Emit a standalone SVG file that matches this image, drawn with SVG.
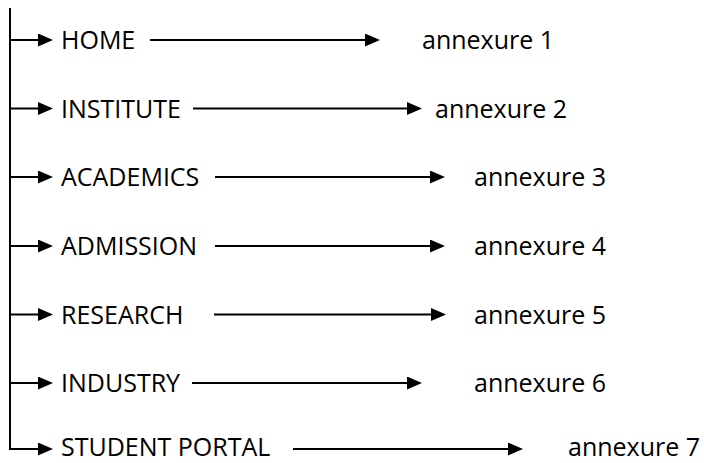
<svg xmlns="http://www.w3.org/2000/svg" width="704" height="463" viewBox="0 0 704 463">
<style>
  text { font-family: "Open Sans", "Noto Sans", "Liberation Sans", sans-serif; font-size: 25px; fill: #000; }
  .ln { stroke: #000; stroke-width: 2; fill: none; }
</style>
<defs>
  <marker id="ah" markerUnits="userSpaceOnUse" markerWidth="15" markerHeight="13" refX="8" refY="6.5" orient="auto">
    <path d="M0,0 L15,6.5 L0,13 z" fill="#000"/>
  </marker>
</defs>
<rect width="704" height="463" fill="#fff"/>
<g id="connectors">
  <path class="ln" d="M10,8 V449 H46" marker-end="url(#ah)"/>
  <line class="ln" x1="10" y1="40" x2="46" y2="40" marker-end="url(#ah)"/>
  <line class="ln" x1="10" y1="108.5" x2="46" y2="108.5" marker-end="url(#ah)"/>
  <line class="ln" x1="10" y1="177" x2="46" y2="177" marker-end="url(#ah)"/>
  <line class="ln" x1="10" y1="246" x2="46" y2="246" marker-end="url(#ah)"/>
  <line class="ln" x1="10" y1="314.5" x2="46" y2="314.5" marker-end="url(#ah)"/>
  <line class="ln" x1="10" y1="383" x2="46" y2="383" marker-end="url(#ah)"/>
  <line class="ln" x1="150" y1="40" x2="373" y2="40" marker-end="url(#ah)"/>
  <line class="ln" x1="193" y1="108.5" x2="415" y2="108.5" marker-end="url(#ah)"/>
  <line class="ln" x1="215" y1="177" x2="438" y2="177" marker-end="url(#ah)"/>
  <line class="ln" x1="215" y1="246" x2="438" y2="246" marker-end="url(#ah)"/>
  <line class="ln" x1="214" y1="314.5" x2="439" y2="314.5" marker-end="url(#ah)"/>
  <line class="ln" x1="192" y1="383" x2="415" y2="383" marker-end="url(#ah)"/>
  <line class="ln" x1="293" y1="449" x2="516" y2="449" marker-end="url(#ah)"/>
</g>
<g id="home"><text x="61" y="49">HOME</text></g>
<g id="institute"><text x="61" y="117.5">INSTITUTE</text></g>
<g id="academics"><text x="61" y="186">ACADEMICS</text></g>
<g id="admission"><text x="61" y="255">ADMISSION</text></g>
<g id="research"><text x="61" y="323.5">RESEARCH</text></g>
<g id="industry"><text x="61" y="392">INDUSTRY</text></g>
<g id="student-portal"><text x="61" y="456">STUDENT PORTAL</text></g>
<g id="annexure-1"><text x="422" y="49">annexure 1</text></g>
<g id="annexure-2"><text x="435" y="117.5">annexure 2</text></g>
<g id="annexure-3"><text x="474" y="186">annexure 3</text></g>
<g id="annexure-4"><text x="474" y="255">annexure 4</text></g>
<g id="annexure-5"><text x="474" y="323.5">annexure 5</text></g>
<g id="annexure-6"><text x="474" y="392">annexure 6</text></g>
<g id="annexure-7"><text x="568" y="456">annexure 7</text></g>
</svg>
